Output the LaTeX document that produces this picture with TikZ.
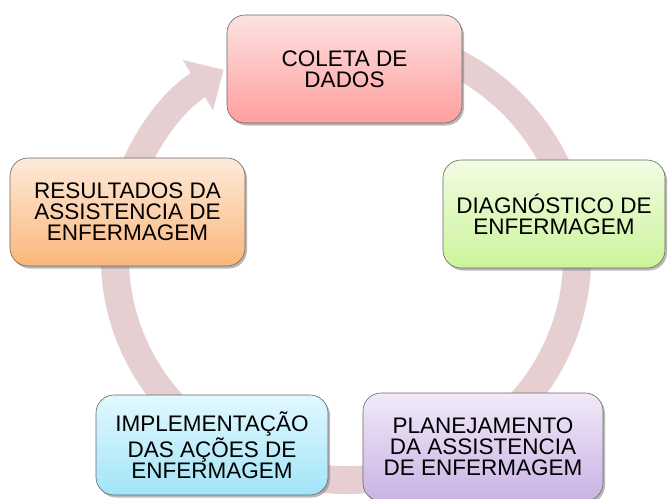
\documentclass[tikz,border=0pt]{standalone}
\usepackage{fontspec}
\setmainfont{Liberation Sans}
\usepackage{tikz}
\usetikzlibrary{arrows.meta,backgrounds,shadows,calc}
\definecolor{ringcolor}{HTML}{E6CFD0}
\definecolor{coletatop}{HTML}{FDE2E2}
\definecolor{coletabot}{HTML}{FF9E9E}
\definecolor{resultop}{HTML}{FDEADA}
\definecolor{resulbot}{HTML}{FBB77A}
\definecolor{diagtop}{HTML}{F2FCE4}
\definecolor{diagbot}{HTML}{CCF49A}
\definecolor{impltop}{HTML}{E2F8FE}
\definecolor{implbot}{HTML}{A2E4F8}
\definecolor{plantop}{HTML}{F1EAF8}
\definecolor{planbot}{HTML}{CAB2E4}
\tikzset{cyclebox/.style = {rectangle, rounded corners=18pt, minimum height=108pt, align=center, draw=gray!80!black, line width=0.6pt, font=\fontsize{22.5}{21}\selectfont, drop shadow={shadow xshift=2pt, shadow yshift=-2.5pt, opacity=0.55}}}
\tikzset{ring/.style = {draw=ringcolor, line width=28pt, -{Triangle[length=30pt 0 0, width=57pt 0 0]}}}

\begin{document}
\begin{tikzpicture}[x=1pt,y=1pt]
\useasboundingbox (0,0) rectangle (668,-498);
\node [cyclebox, minimum width=235pt, top color=coletatop, bottom color=coletabot] (coleta) at (344.5,-69) {COLETA DE\\DADOS};
\node [cyclebox, minimum width=222pt, top color=diagtop, bottom color=diagbot] (diagnostico) at (554,-214) {DIAGNÓSTICO DE\\ENFERMAGEM};
\node [cyclebox, minimum width=240pt, top color=plantop, bottom color=planbot] (planejamento) at (483,-447) {PLANEJAMENTO\\DA ASSISTENCIA\\DE ENFERMAGEM};
\node [cyclebox, minimum width=232pt, minimum height=100pt, top color=impltop, bottom color=implbot] (implementacao) at (212,-445) {IMPLEMENTAÇÃO\\DAS AÇÕES DE\\ENFERMAGEM};
\node [cyclebox, minimum width=235pt, top color=resultop, bottom color=resulbot] (resultados) at (127.5,-212) {RESULTADOS DA\\ASSISTENCIA DE\\ENFERMAGEM};

\begin{scope}[on background layer]
\coordinate (ringcenter) at (346,-258);
\draw [ring] ($(ringcenter)+(80:231 and 222)$) arc [start angle=80, end angle=-238, x radius=231, y radius=222];
\end{scope}
\end{tikzpicture}
\end{document}
